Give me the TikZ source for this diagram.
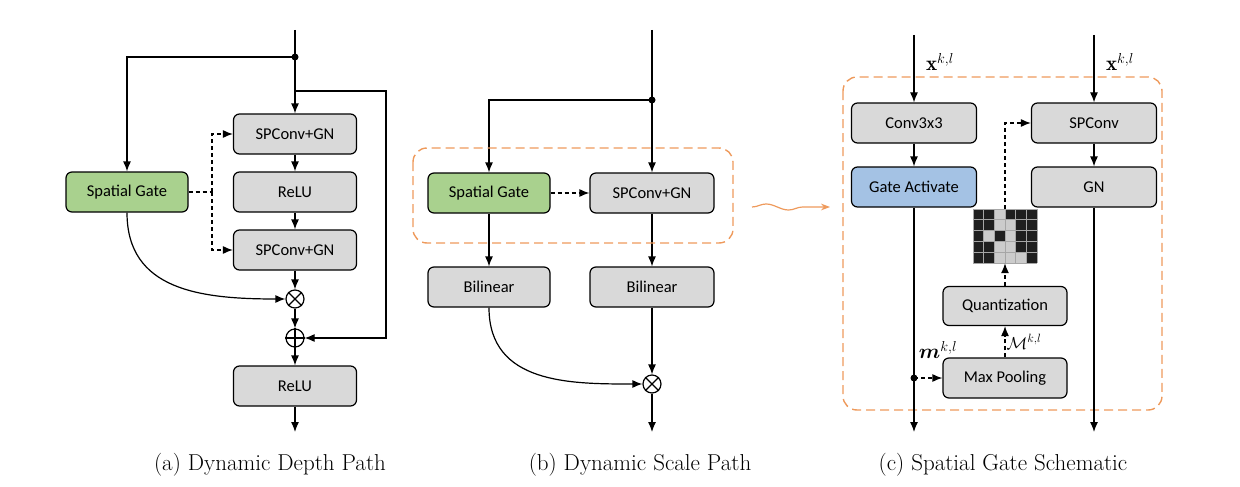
\documentclass[tikz,border=0pt]{standalone}
\usepackage{amsmath,amssymb,bm}
\usepackage{fontspec}
\setsansfont{Carlito}
\usetikzlibrary{arrows.meta,decorations.pathmorphing}
\definecolor{boxg}{HTML}{D9D9D9}
\definecolor{gate}{HTML}{A9D18E}
\definecolor{blu}{HTML}{A4C2E4}
\definecolor{org}{HTML}{EE9A5C}
\begin{document}
\begin{tikzpicture}[x=1pt,y=-1pt,
  box/.style={draw,rounded corners=6pt,fill=boxg,minimum width=123pt,minimum height=40pt,font=\sffamily\fontsize{16.5}{20}\selectfont,line width=1.2pt,inner sep=1pt},
  ln/.style={line width=1.2pt},
  ar/.style={ln,-{Latex[length=10pt,width=8pt]}},
  da/.style={ar,dash pattern=on 4pt off 3pt},
  op/.style={draw,circle,minimum size=18pt,inner sep=0pt,line width=1.2pt},
  reg/.style={draw=org,line width=1.4pt,rounded corners=14pt,dash pattern=on 9pt off 5pt},
  captxt/.style={font=\fontsize{23}{27}\selectfont}]
\useasboundingbox (0,0) rectangle (1240,487);
% ---------- (a)
\coordinate (aT) at (295,30);
\coordinate (aD) at (295,57);
\coordinate (aS) at (295,91);
\node[box,fill=gate,minimum width=122pt] (aG) at (127,192) {Spatial Gate};
\node[box] (a1) at (295,134) {SPConv+GN};
\node[box] (a2) at (295,192) {ReLU};
\node[box] (a3) at (295,250) {SPConv+GN};
\node[op] (ax) at (295,299) {};
\draw[ln] (ax.north west)--(ax.south east) (ax.north east)--(ax.south west);
\node[op] (ap) at (295,338) {};
\draw[ln] (ap.north)--(ap.south) (ap.west)--(ap.east);
\node[box] (a4) at (295,386) {ReLU};
\coordinate (aE) at (295,432);
\draw[ln] (aT)--(aD);
\fill (aD) circle (3.5pt);
\draw[ar] (aD)--(a1.north);
\draw[ar] (aD)-|(aG.north);
\draw[ar] (aS)-|(386,338)--(ap.east);
\draw[ar] (a1)--(a2);
\draw[ar] (a2)--(a3);
\draw[ar] (a3)--(ax);
\draw[ar] (ax)--(ap);
\draw[ar] (ap)--(a4);
\draw[ar] (a4)--(aE);
\coordinate (aJ) at (212,192);
\draw[ln,dash pattern=on 4pt off 3pt] (aG.east)--(aJ);
\draw[da] (212,192)|-(a1.west);
\draw[da] (212,192)|-(a3.west);
\draw[ar] (aG.south) .. controls (127,290) and (200,299) .. (ax.west);
% ---------- (b)
\coordinate (bT) at (652,30);
\coordinate (bD) at (652,100);
\node[box,fill=gate,minimum width=122pt] (bG) at (489,193) {Spatial Gate};
\node[box,minimum width=124pt] (b1) at (652,193) {SPConv+GN};
\node[box,minimum width=122pt] (b2) at (489,287) {Bilinear};
\node[box,minimum width=124pt] (b3) at (652,287) {Bilinear};
\node[op] (bx) at (652,384) {};
\draw[ln] (bx.north west)--(bx.south east) (bx.north east)--(bx.south west);
\coordinate (bE) at (652,432);
\draw[ln] (bT)--(bD);
\fill (bD) circle (3.5pt);
\draw[ar] (bD)--(b1.north);
\draw[ar] (bD)-|(bG.north);
\draw[da] (bG)--(b1);
\draw[ar] (bG)--(b2);
\draw[ar] (b1)--(b3);
\draw[ar] (b3)--(bx);
\draw[ar] (bx)--(bE);
\draw[ar] (b2.south) .. controls (489,384) and (570,384) .. (bx.west);
\draw[reg] (413,148) rectangle (733,243);
\draw[org,line width=1.2pt,-{Stealth[length=9pt]},decorate,decoration={snake,amplitude=3pt,segment length=45pt,post length=9pt}] (752,207)--(830,207);
% ---------- (c)
\draw[reg] (843,77) rectangle (1162,410);
\coordinate (cT1) at (914,35);
\coordinate (cT2) at (1094,35);
\node[box,minimum width=125pt] (c1) at (914,123) {Conv3x3};
\node[box,minimum width=125pt,fill=blu] (c2) at (914,187) {Gate Activate};
\node[box,minimum width=125pt] (c3) at (1094,123) {SPConv};
\node[box,minimum width=125pt] (c4) at (1094,187) {GN};
\node[box,minimum width=124pt,minimum height=39pt] (c5) at (1005,306) {Quantization};
\node[box,minimum width=124pt] (c6) at (1005,378) {Max Pooling};
\coordinate (cD) at (914,378);
\coordinate (cE1) at (914,432);
\coordinate (cE2) at (1094,432);
% grid
\begin{scope}[shift={(973,209)}]
\fill[black!88] (0,0) rectangle (64,54);
\foreach \c/\r in {2/0,2/1,3/1,1/2,3/2,2/3,3/3,2/4,3/4,4/4}
  \fill[black!20] (\c*10.67,\r*10.8) rectangle ++(10.67,10.8);
\foreach \i in {0,...,6} \draw[gray!70,line width=0.8pt] (\i*10.67,0)--(\i*10.67,54);
\foreach \j in {0,...,5} \draw[gray!70,line width=0.8pt] (0,\j*10.8)--(64,\j*10.8);
\end{scope}
\node[minimum width=64pt,minimum height=54pt,inner sep=0pt] (gr) at (1005,236) {};
\draw[ar] (cT1)--(c1);
\draw[ar] (c1)--(c2);
\draw[ar] (cT2)--(c3);
\draw[ar] (c3)--(c4);
\draw[ln] (c2.south)--(cD);
\draw[ar] (cD)--(cE1);
\fill (cD) circle (3.5pt);
\draw[ar] (c4)--(cE2);
\draw[da] (cD)--(c6.west);
\draw[da] (c6)--(c5) node[midway,right,font=\fontsize{17}{20}\selectfont,inner sep=1pt] {$\mathcal{M}^{k,l}$};
\draw[da] (c5)--(gr.south);
\draw[da] (gr.north)|-(c3.west);
\node[font=\fontsize{21}{24}\selectfont] (x1) at (940,62) {$\mathbf{x}^{k,l}$};
\node[font=\fontsize{21}{24}\selectfont] (x2) at (1120,62) {$\mathbf{x}^{k,l}$};
\node[font=\fontsize{20}{24}\selectfont] (mk) at (938,350) {$\bm{m}^{k,l}$};
% captions
\node[captxt] (ca) at (270,465) {(a) Dynamic Depth Path};
\node[captxt] (cb) at (640,465) {(b) Dynamic Scale Path};
\node[captxt] (cc) at (1003,465) {(c) Spatial Gate Schematic};
\end{tikzpicture}
\end{document}
